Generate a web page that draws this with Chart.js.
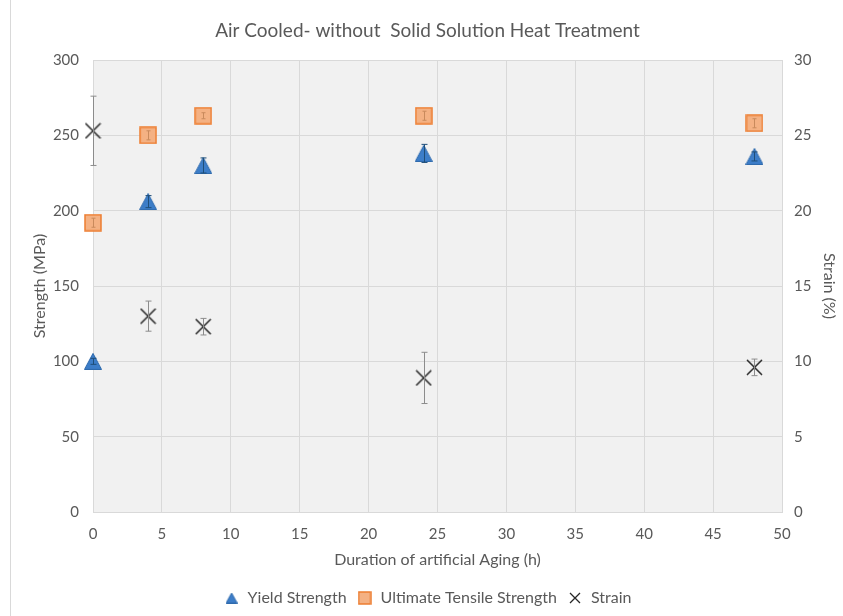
<!DOCTYPE html>
<html>
<head>
<meta charset="utf-8">
<script src="https://cdn.jsdelivr.net/npm/chart.js@4"></script>
<style>
html,body{margin:0;padding:0;background:#fff;}
#wrap{width:843px;height:616px;}
</style>
</head>
<body>
<div id="wrap"><canvas id="c" width="843" height="616"></canvas></div>
<script>
// ---- data ----
const hours = [0, 4, 8, 24, 48];
const yieldStrength = [100, 206, 230, 238, 236];
const yieldErr = [2, 4, 5, 6, 3];
const utsStrength = [192, 250, 263, 263, 258];
const utsErr = [3, 3, 2, 3, 3];
const strain = [25.3, 13.0, 12.3, 8.9, 9.6];
const strainErr = [2.3, 1.0, 0.55, 1.7, 0.55];
const xTicks = [0, 5, 10, 15, 20, 25, 30, 35, 40, 45, 50];

const FONT = "Lato, 'Open Sans', sans-serif";
const GREY = '#595959';

function makeTri(w, h, fill, stroke) {
  const c = document.createElement('canvas'); c.width = w; c.height = h;
  const x = c.getContext('2d');
  x.beginPath(); x.moveTo(w / 2, 0.5); x.lineTo(w - 0.5, h - 0.5); x.lineTo(0.5, h - 0.5); x.closePath();
  x.fillStyle = fill; x.fill(); x.strokeStyle = stroke; x.lineWidth = 1; x.stroke();
  return c;
}
function makeSq(s, fill, stroke) {
  const c = document.createElement('canvas'); c.width = s; c.height = s;
  const x = c.getContext('2d');
  x.fillStyle = fill; x.fillRect(1, 1, s - 2, s - 2);
  x.strokeStyle = stroke; x.lineWidth = 1.5; x.strokeRect(1, 1, s - 2, s - 2);
  return c;
}
function makeX(s, color, lw) {
  const c = document.createElement('canvas'); c.width = s; c.height = s;
  const x = c.getContext('2d');
  x.strokeStyle = color; x.lineWidth = lw;
  x.beginPath(); x.moveTo(1, 1); x.lineTo(s - 1, s - 1); x.moveTo(s - 1, 1); x.lineTo(1, s - 1); x.stroke();
  return c;
}
const triImg = makeTri(18, 17, '#3c7dc8', '#2e6aad');
const sqImg = makeSq(18, '#f4b183', '#ed7d31');
const xImg = makeX(17, '#262626', 1.5);
const triLeg = makeTri(12, 11, '#3c7dc8', '#2e6aad');
const sqLeg = makeSq(14, '#f4b183', '#ed7d31');
const xLeg = makeX(12, '#262626', 1.3);

const toPts = (ys) => hours.map((h, i) => ({ x: h, y: ys[i] }));

const errorBars = {
  id: 'errorBars',
  afterDatasetsDraw(chart) {
    const ctx = chart.ctx;
    chart.data.datasets.forEach((ds) => {
      if (!ds.errors) return;
      const xs = chart.scales.x, ys = chart.scales[ds.yAxisID];
      ctx.save();
      ctx.strokeStyle = ds.errorColor; ctx.lineWidth = 1;
      ds.data.forEach((p, i) => {
        const e = ds.errors[i];
        const px = Math.round(xs.getPixelForValue(p.x)) + 0.5;
        const top = ys.getPixelForValue(p.y + e), bot = ys.getPixelForValue(p.y - e);
        const cap = ds.capWidth;
        ctx.beginPath();
        ctx.moveTo(px, top); ctx.lineTo(px, bot);
        ctx.moveTo(px - cap, top); ctx.lineTo(px + cap, top);
        ctx.moveTo(px - cap, bot); ctx.lineTo(px + cap, bot);
        ctx.stroke();
      });
      ctx.restore();
    });
  }
};
const bg = {
  id: 'bg',
  beforeDraw(chart) {
    const { ctx, chartArea: a } = chart;
    ctx.save();
    ctx.fillStyle = '#f1f1f1';
    ctx.fillRect(a.left, a.top, a.right - a.left, a.bottom - a.top);
    ctx.strokeStyle = '#d9d9d9'; ctx.lineWidth = 1;
    ctx.beginPath(); ctx.moveTo(10.5, 0); ctx.lineTo(10.5, 616); ctx.stroke();
    ctx.restore();
  }
};

new Chart(document.getElementById('c'), {
  type: 'scatter',
  data: {
    datasets: [
      { label: 'Yield Strength', data: toPts(yieldStrength), yAxisID: 'y', pointStyle: triImg, legendStyle: triLeg,
        errors: yieldErr, errorColor: '#1f4e79', capWidth: 3, order: 3, clip: false },
      { label: 'Ultimate Tensile Strength', data: toPts(utsStrength), yAxisID: 'y', pointStyle: sqImg, legendStyle: sqLeg,
        errors: utsErr, errorColor: '#c98a5c', capWidth: 2, order: 2, clip: false },
      { label: 'Strain', data: toPts(strain), yAxisID: 'y2', pointStyle: xImg, legendStyle: xLeg,
        errors: strainErr, errorColor: '#8c8c8c', capWidth: 3, order: 1, clip: false }
    ]
  },
  options: {
    responsive: false,
    animation: false,
    layout: { padding: { left: 12, right: 0, top: 10, bottom: 0 } },
    plugins: {
      tooltip: { enabled: false },
      title: {
        display: true,
        text: 'Air Cooled- without  Solid Solution Heat Treatment',
        color: GREY,
        font: { family: FONT, size: 19, weight: 'normal' },
        padding: { top: 9, bottom: 18.2 }
      },
      legend: {
        position: 'bottom',
        labels: {
          color: GREY,
          font: { family: FONT, size: 16 },
          usePointStyle: true,
          padding: 10,
          generateLabels(chart) {
            return chart.data.datasets.map((ds, i) => ({
              text: ds.label, pointStyle: ds.legendStyle, datasetIndex: i,
              fontColor: GREY, hidden: false, lineWidth: 0
            }));
          }
        }
      }
    },
    scales: {
      x: {
        type: 'linear', min: 0, max: 50,
        afterBuildTicks(axis) { axis.ticks = xTicks.map(v => ({ value: v })); },
        afterFit(axis) { axis.height = 68; },
        grid: { color: '#d9d9d9', drawTicks: false },
        border: { color: '#d9d9d9' },
        ticks: { color: GREY, font: { family: FONT, size: 15 }, padding: 13, maxRotation: 0 },
        title: { display: true, text: 'Duration of artificial Aging (h)', color: GREY,
                 font: { family: FONT, size: 16 }, padding: { top: 0, bottom: 11 } }
      },
      y: {
        position: 'left', min: 0, max: 300,
        ticks: { stepSize: 50, color: GREY, font: { family: FONT, size: 15 }, padding: 14 },
        afterFit(axis) { axis.width = 81; },
        grid: { color: '#d9d9d9', drawTicks: false },
        border: { display: false },
        title: { display: true, text: 'Strength (MPa)', color: GREY,
                 font: { family: FONT, size: 16 }, padding: { top: 18, bottom: 0 } }
      },
      y2: {
        position: 'right', min: 0, max: 30,
        ticks: { stepSize: 5, color: GREY, font: { family: FONT, size: 15 }, padding: 12 },
        afterFit(axis) { axis.width = 61; },
        grid: { display: false, drawTicks: false },
        border: { display: false },
        title: { display: true, text: 'Strain (%)', color: GREY,
                 font: { family: FONT, size: 16 }, padding: { top: 4, bottom: 0 } }
      }
    }
  },
  plugins: [bg, errorBars]
});
</script>
</body>
</html>
